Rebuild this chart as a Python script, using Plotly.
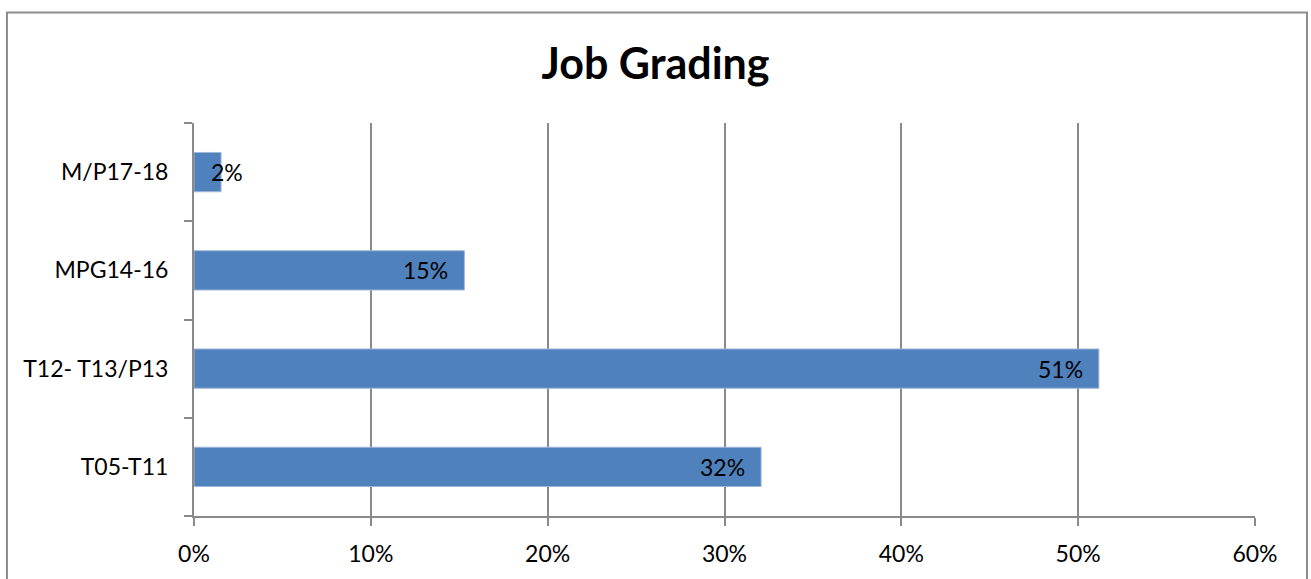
import plotly.graph_objects as go

# Job grade bands (bottom to top) and their share of staff
grades = ["T05-T11", "T12- T13/P13", "MPG14-16", "M/P17-18"]
shares = [0.3207, 0.5117, 0.1529, 0.0153]

x_ticks = [0.0, 0.1, 0.2, 0.3, 0.4, 0.5, 0.6]
x_tick_labels = ["0%", "10%", "20%", "30%", "40%", "50%", "60%"]

BAR_COLOR = "#4F81BD"
GRID_COLOR = "#898989"
FONT = "Lato, Calibri, Carlito, sans-serif"
LABEL_SIZE = 23

fig = go.Figure(
    go.Bar(
        x=shares,
        y=grades,
        orientation="h",
        marker=dict(color=BAR_COLOR, line=dict(color="#9fb8d8", width=1)),
        width=0.4,
        hoverinfo="x+y",
    )
)

# Value labels sit just inside the end of each bar; a label too wide for
# its bar starts near the axis instead.
for g, v in zip(grades, shares):
    fits = v >= 0.05
    fig.add_annotation(
        x=v if fits else 0,
        y=g,
        xref="x",
        yref="y",
        text=f"{v:.0%}",
        showarrow=False,
        xanchor="right" if fits else "left",
        xshift=-14 if fits else 15,
        font=dict(family=FONT, size=LABEL_SIZE, color="black"),
    )

# Chart-area frame
fig.add_shape(
    type="rect",
    xref="paper",
    yref="paper",
    x0=-0.1763,
    x1=1.0490,
    y0=-0.4,
    y1=1.2814,
    line=dict(color="#8c8c8c", width=2),
    fillcolor="rgba(0,0,0,0)",
    layer="below",
)

fig.update_layout(
    width=1311,
    height=579,
    margin=dict(l=194, r=56, t=123, b=58),
    paper_bgcolor="white",
    plot_bgcolor="white",
    showlegend=False,
    font=dict(family=FONT, size=LABEL_SIZE, color="black"),
    title=dict(
        text="<b>Job Grading</b>",
        x=0.5,
        xref="container",
        xanchor="center",
        y=1 - 64 / 579,
        yref="container",
        yanchor="middle",
        font=dict(family=FONT, size=43, color="black"),
    ),
    xaxis=dict(
        range=[0, 0.6],
        tickvals=x_ticks,
        ticktext=x_tick_labels,
        showgrid=True,
        gridcolor=GRID_COLOR,
        gridwidth=2,
        zeroline=False,
        showline=True,
        linecolor=GRID_COLOR,
        linewidth=2,
        ticks="outside",
        ticklen=8,
        tickwidth=2,
        tickcolor=GRID_COLOR,
        ticklabelstandoff=8,
        tickfont=dict(family=FONT, size=LABEL_SIZE, color="black"),
    ),
    yaxis=dict(
        type="category",
        categoryorder="array",
        categoryarray=grades,
        tickson="boundaries",
        showgrid=False,
        zeroline=False,
        showline=True,
        linecolor=GRID_COLOR,
        linewidth=2,
        ticks="outside",
        ticklen=8,
        tickwidth=2,
        tickcolor=GRID_COLOR,
        ticklabelstandoff=19,
        tickfont=dict(family=FONT, size=LABEL_SIZE, color="black"),
    ),
)

fig.write_html("out.html")
